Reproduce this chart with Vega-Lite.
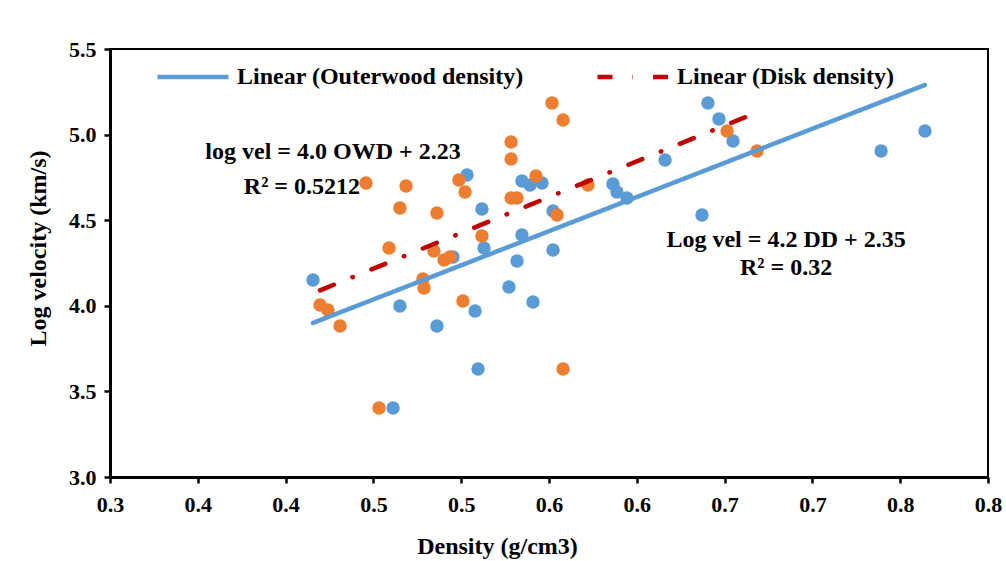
{
  "$schema": "https://vega.github.io/schema/vega-lite/v6.json",
  "width": 878,
  "height": 428,
  "autosize": {"type": "none"},
  "padding": {"left": 110, "top": 49, "right": 18, "bottom": 84},
  "background": "white",
  "config": {
    "view": {"stroke": "black", "strokeWidth": 2},
    "font": "Liberation Serif",
    "axis": {
      "grid": false,
      "domainColor": "black",
      "domainWidth": 3,
      "tickColor": "black",
      "tickWidth": 2.5,
      "tickSize": 6,
      "labelFont": "Liberation Serif",
      "labelFontSize": 22,
      "labelFontWeight": "bold",
      "labelColor": "black",
      "titleFont": "Liberation Serif",
      "titleFontSize": 24,
      "titleFontWeight": "bold",
      "titleColor": "black"
    }
  },
  "datasets": {
    "outerwood": [
      {"density": 0.4156, "velocity": 4.151},
      {"density": 0.4612, "velocity": 3.403},
      {"density": 0.4651, "velocity": 3.999},
      {"density": 0.4862, "velocity": 3.882},
      {"density": 0.4953, "velocity": 4.285},
      {"density": 0.5033, "velocity": 4.764},
      {"density": 0.5079, "velocity": 3.970},
      {"density": 0.5096, "velocity": 3.631},
      {"density": 0.5118, "velocity": 4.565},
      {"density": 0.5130, "velocity": 4.338},
      {"density": 0.5272, "velocity": 4.110},
      {"density": 0.5318, "velocity": 4.262},
      {"density": 0.5346, "velocity": 4.414},
      {"density": 0.5346, "velocity": 4.729},
      {"density": 0.5392, "velocity": 4.706},
      {"density": 0.5460, "velocity": 4.717},
      {"density": 0.5409, "velocity": 4.022},
      {"density": 0.5523, "velocity": 4.554},
      {"density": 0.5523, "velocity": 4.326},
      {"density": 0.5864, "velocity": 4.711},
      {"density": 0.5887, "velocity": 4.665},
      {"density": 0.5944, "velocity": 4.630},
      {"density": 0.6161, "velocity": 4.852},
      {"density": 0.6371, "velocity": 4.530},
      {"density": 0.6405, "velocity": 5.185},
      {"density": 0.6468, "velocity": 5.091},
      {"density": 0.6548, "velocity": 4.963},
      {"density": 0.7391, "velocity": 4.904},
      {"density": 0.7641, "velocity": 5.021}
    ],
    "disk": [
      {"density": 0.4196, "velocity": 4.005},
      {"density": 0.4241, "velocity": 3.975},
      {"density": 0.4310, "velocity": 3.882},
      {"density": 0.4458, "velocity": 4.717},
      {"density": 0.4532, "velocity": 3.403},
      {"density": 0.4589, "velocity": 4.338},
      {"density": 0.4651, "velocity": 4.571},
      {"density": 0.4686, "velocity": 4.700},
      {"density": 0.4782, "velocity": 4.157},
      {"density": 0.4788, "velocity": 4.104},
      {"density": 0.4845, "velocity": 4.320},
      {"density": 0.4862, "velocity": 4.542},
      {"density": 0.4902, "velocity": 4.268},
      {"density": 0.4936, "velocity": 4.285},
      {"density": 0.4987, "velocity": 4.735},
      {"density": 0.5022, "velocity": 4.665},
      {"density": 0.5010, "velocity": 4.028},
      {"density": 0.5118, "velocity": 4.408},
      {"density": 0.5284, "velocity": 4.957},
      {"density": 0.5284, "velocity": 4.857},
      {"density": 0.5284, "velocity": 4.630},
      {"density": 0.5318, "velocity": 4.630},
      {"density": 0.5426, "velocity": 4.758},
      {"density": 0.5517, "velocity": 5.185},
      {"density": 0.5580, "velocity": 5.085},
      {"density": 0.5546, "velocity": 4.530},
      {"density": 0.5580, "velocity": 3.631},
      {"density": 0.5722, "velocity": 4.706},
      {"density": 0.6514, "velocity": 5.021},
      {"density": 0.6685, "velocity": 4.904}
    ],
    "trend": [
      {"series": "Linear (Outerwood density)", "density": 0.4156, "velocity": 3.90},
      {"series": "Linear (Outerwood density)", "density": 0.7641, "velocity": 5.29},
      {"series": "Linear (Disk density)", "density": 0.4196, "velocity": 4.09},
      {"series": "Linear (Disk density)", "density": 0.6685, "velocity": 5.13}
    ],
    "labels": [
      {"label": "log vel = 4.0 OWD + 2.23", "density": 0.427, "velocity": 4.898},
      {"label": "R² = 0.5212", "density": 0.4093, "velocity": 4.694},
      {"label": "Log vel = 4.2 DD + 2.35", "density": 0.685, "velocity": 4.384},
      {"label": "R² = 0.32", "density": 0.685, "velocity": 4.221}
    ]
  },
  "encoding": {
    "x": {
      "field": "density",
      "type": "quantitative",
      "scale": {"domain": [0.3, 0.8], "nice": false, "zero": false},
      "axis": {
        "title": "Density (g/cm3)",
        "values": [0.3, 0.35, 0.4, 0.45, 0.5, 0.55, 0.6, 0.65, 0.7, 0.75, 0.8],
        "labelExpr": "format(round(datum.value * 10 + 0.001) / 10, '.1f')",
        "labelFlush": false,
        "labelOverlap": false,
        "labelPadding": 11,
        "titleX": 387,
        "titleY": 69,
        "titleBaseline": "middle"
      }
    },
    "y": {
      "field": "velocity",
      "type": "quantitative",
      "scale": {"domain": [3, 5.5], "nice": false, "zero": false},
      "axis": {
        "title": "Log velocity (km/s)",
        "values": [3, 3.5, 4, 4.5, 5, 5.5],
        "format": ".1f",
        "labelPadding": 8,
        "labelOverlap": false,
        "titleX": -72,
        "titleY": 199,
        "titleBaseline": "middle"
      }
    }
  },
  "layer": [
    {
      "data": {"name": "outerwood"},
      "mark": {"type": "circle", "size": 180, "color": "#5B9BD5", "opacity": 1}
    },
    {
      "data": {"name": "disk"},
      "mark": {"type": "circle", "size": 180, "color": "#ED7D31", "opacity": 1}
    },
    {
      "data": {"name": "trend"},
      "mark": {"type": "line", "strokeWidth": 4.5, "strokeCap": "round"},
      "encoding": {
        "color": {
          "field": "series",
          "type": "nominal",
          "scale": {"domain": ["Linear (Outerwood density)", "Linear (Disk density)"], "range": ["#5B9BD5", "#C00000"]},
          "legend": {
            "title": null,
            "orient": "none",
            "legendX": 45,
            "legendY": -10,
            "direction": "horizontal",
            "symbolType": "stroke",
            "symbolSize": 5041,
            "symbolStrokeWidth": 4.5,
            "labelFont": "Liberation Serif",
            "labelFontSize": 24,
            "labelFontWeight": "bold",
            "labelColor": "black",
            "labelOffset": 6,
            "columnPadding": 64,
            "padding": 0,
            "labelLimit": 500
          }
        },
        "strokeDash": {
          "field": "series",
          "type": "nominal",
          "scale": {"domain": ["Linear (Outerwood density)", "Linear (Disk density)"], "range": [[1, 0], [15, 20, 0.5, 20]]},
          "legend": {
            "title": null,
            "orient": "none",
            "legendX": 45,
            "legendY": -10,
            "direction": "horizontal",
            "symbolType": "stroke",
            "symbolSize": 5041,
            "symbolStrokeWidth": 4.5,
            "labelFont": "Liberation Serif",
            "labelFontSize": 24,
            "labelFontWeight": "bold",
            "labelColor": "black",
            "labelOffset": 6,
            "columnPadding": 64,
            "padding": 0,
            "labelLimit": 500
          }
        }
      }
    },
    {
      "data": {"name": "labels"},
      "mark": {"type": "text", "font": "Liberation Serif", "fontSize": 24, "fontWeight": "bold", "color": "black", "align": "center", "baseline": "middle"},
      "encoding": {"text": {"field": "label", "type": "nominal"}}
    }
  ]
}
